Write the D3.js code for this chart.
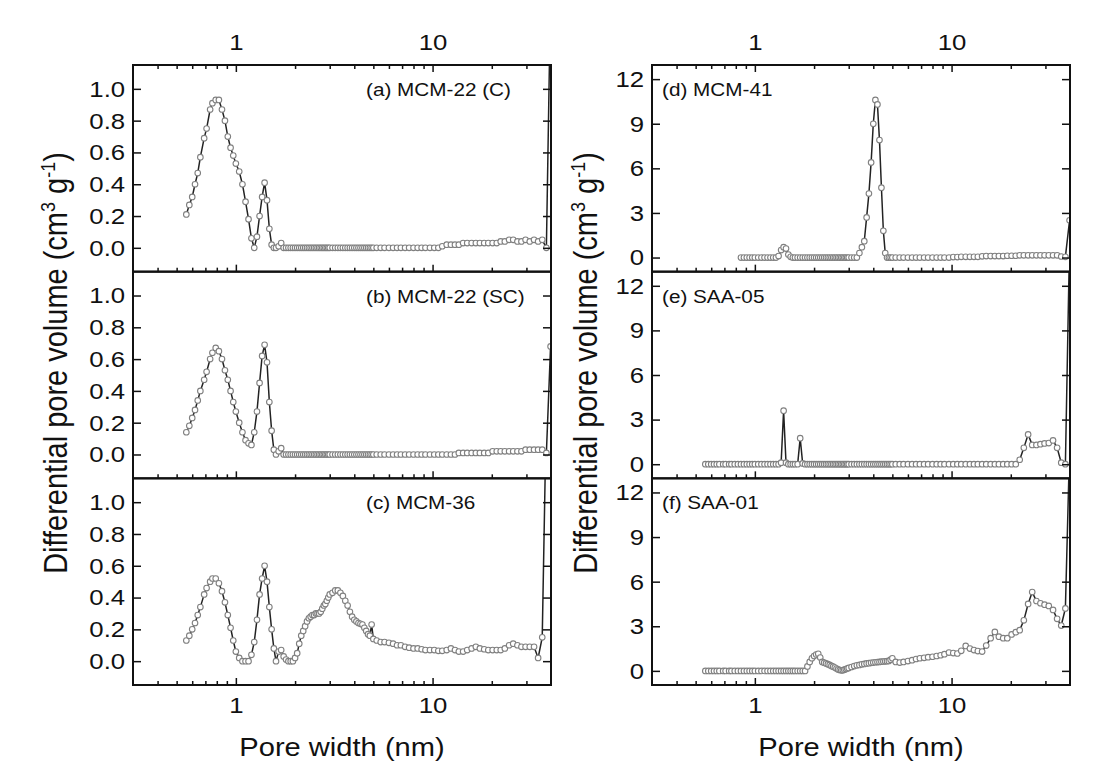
<!DOCTYPE html>
<meta charset="utf-8"/>
<head>
<style>
  body { margin:0; background:#fff; }
  text { font-family: "Liberation Sans", Arial, sans-serif; fill:#111; }
</style>
<script src="https://d3js.org/d3.v7.min.js" charset="utf-8"></script>
</head>
<body>
<script>

// pore widths (nm) shared by all six curves
var poreWidth = [
  0.56,0.58,0.60,0.62,0.64,0.66,0.69,0.71,0.74,0.76,0.79,0.82,0.85,0.88,0.91,0.94,0.97,1.00,
  1.04,1.08,1.12,1.16,1.20,1.24,1.28,1.32,1.36,1.40,1.44,1.48,1.52,1.56,1.60,1.65,1.70,1.75,
  1.80,1.85,1.90,1.95,2.00,2.05,2.10,2.15,2.20,2.25,2.30,2.35,2.40,2.45,2.50,2.55,2.60,2.65,2.70,2.75,2.80,2.85,2.90,2.95,3.00,
  3.1,3.2,3.3,3.4,3.5,3.6,3.7,3.8,3.9,4.0,4.1,4.2,4.3,4.4,4.5,4.6,4.7,4.8,4.9,5.0,
  5.2,5.45,5.7,6.0,6.3,6.6,6.9,7.25,7.6,8.0,
  8.4,8.8,9.2,9.7,10.2,10.7,11.2,11.8,12.4,13,
  13.6,14.3,15,15.8,16.6,17.4,18.3,19.2,20.2,21.2,
  22.2,23.3,24.5,25.7,27,28.3,29.7,31.2,32.8,34.4,
  36.1,37.9,39.8
];

// differential pore volume, cm3 g-1 (null = no point)
var mcm22C = [
  0.21,0.27,0.32,0.40,0.47,0.57,0.69,0.75,0.87,0.91,0.93,0.93,0.87,0.80,0.70,0.63,0.58,0.53,
  0.48,0.40,0.29,0.18,0.06,0.00,0.07,0.20,0.32,0.41,0.30,0.12,0.02,0.00,0.00,0.01,0.03,0.00,
  0,0,0,0,0,0,0,0,0,0,0,0,0,0,0,0,0,0,0,0,0,0,0,0,0,
  0,0,0,0,0,0,0,0,0,0,0,0,0,0,0,0,0,0,0,0,
  0,0,0,0,0,0,0,0,0,0,
  0,0,0,0,0,0,0.01,0.02,0.02,0.02,
  0.02,0.03,0.03,0.03,0.03,0.03,0.03,0.03,0.03,0.03,
  0.04,0.04,0.05,0.05,0.04,0.04,0.05,0.04,0.05,0.04,
  0.05,0.00,1.6
];
var mcm22SC = [
  0.14,0.18,0.23,0.28,0.34,0.40,0.47,0.52,0.60,0.64,0.67,0.65,0.60,0.53,0.47,0.40,0.33,0.27,
  0.20,0.14,0.09,0.07,0.06,0.14,0.27,0.45,0.62,0.69,0.58,0.33,0.15,0.03,0.00,0.02,0.04,0.00,
  0,0,0,0,0,0,0,0,0,0,0,0,0,0,0,0,0,0,0,0,0,0,0,0,0,
  0,0,0,0,0,0,0,0,0,0,0,0,0,0,0,0,0,0,0,0,
  0,0,0,0,0,0,0,0,0,0,
  0,0,0,0,0,0,0,0,0,0,
  0.01,0.01,0.01,0.01,0.01,0.01,0.01,0.01,0.02,0.02,
  0.02,0.02,0.02,0.02,0.02,0.02,0.03,0.03,0.03,0.03,
  0.03,0.01,0.68
];
var mcm36 = [
  0.13,0.16,0.20,0.24,0.29,0.34,0.42,0.46,0.50,0.52,0.52,0.49,0.44,0.37,0.29,0.21,0.13,0.06,
  0.02,0.00,0.00,0.00,0.04,0.12,0.26,0.42,0.52,0.60,0.50,0.34,0.20,0.08,0.00,0.06,0.07,0.03,
  0.01,0,0,0,0.02,0.05,0.11,0.16,0.19,0.22,0.25,0.27,0.28,0.29,0.29,0.30,0.30,0.30,0.31,0.33,0.35,0.36,0.38,0.40,0.42,
  0.43,0.445,0.445,0.43,0.41,0.38,0.35,0.31,0.28,0.26,0.25,0.24,0.235,0.23,0.21,0.19,0.17,0.16,0.23,0.14,
  0.13,0.12,0.12,0.115,0.11,0.10,0.10,0.09,0.085,0.08,
  0.08,0.075,0.07,0.07,0.07,0.065,0.065,0.07,0.08,0.07,
  0.06,0.06,0.07,0.08,0.09,0.08,0.075,0.07,0.07,0.07,
  0.07,0.08,0.10,0.11,0.10,0.09,0.09,0.09,0.09,0.02,
  0.15,1.6,1.6
];
var mcm41 = [
  null,null,null,null,null,null,null,null,null,null,null,null,0,0,0,0,0,0,
  0,0,0,0,0,0,0,0.1,0.5,0.7,0.6,0.2,0.05,0,0,0,0,0,
  0,0,0,0,0,0,0,0,0,0,0,0,0,0,0,0,0,0,0,0,0,0,0,0,0,
  0,0,0,0.3,0.7,1.1,2.7,4.3,6.4,9.0,10.6,10.3,7.9,4.7,1.8,0.3,0,0,0,0,
  0,0,0,0,0,0,0,0,0,0,
  0,0,0,0,0.03,0.03,0.05,0.05,0.05,0.05,
  0.05,0.08,0.1,0.1,0.1,0.1,0.1,0.12,0.12,0.12,
  0.15,0.15,0.15,0.15,0.15,0.15,0.15,0.15,0.15,0.15,
  0.07,0.05,2.5
];
var saa05 = [
  0,0,0,0,0,0,0,0,0,0,0,0,0,0,0,0,0,0,
  0,0,0,0,0,0,0,0,0.1,3.6,0.1,0,0,0,0,0,1.75,0.05,
  0,0,0,0,0,0,0,0,0,0,0,0,0,0,0,0,0,0,0,0,0,0,0,0,0,
  0,0,0,0,0,0,0,0,0,0,0,0,0,0,0,0,0,0,0,0,
  0,0,0,0,0,0,0,0,0,0,
  0,0,0,0,0,0,0,0,0,0,
  0,0,0,0,0,0,0,0,0,0,
  0.3,1.1,2.0,1.3,1.3,1.35,1.4,1.42,1.6,1.1,
  0.1,0,15
];
var saa01 = [
  0,0,0,0,0,0,0,0,0,0,0,0,0,0,0,0,0,0,
  0,0,0,0,0,0,0,0,0,0,0,0,0,0,0,0,0,0,
  0,0.3,0.6,0.85,1.0,1.1,1.15,0.9,0.6,0.55,0.5,0.45,0.4,0.33,0.28,0.22,0.16,0.1,0.06,0.04,0.04,0.08,0.12,0.16,0.2,
  0.26,0.32,0.37,0.4,0.44,0.47,0.5,0.52,0.54,0.56,0.58,0.59,0.6,0.62,0.63,0.64,0.65,0.67,0.75,0.85,
  0.6,0.56,0.6,0.66,0.72,0.8,0.85,0.88,0.92,0.95,
  1.0,1.05,1.12,1.23,1.2,1.17,1.35,1.68,1.5,1.4,
  1.33,1.3,1.7,2.2,2.62,2.3,2.2,2.2,2.45,2.6,
  2.74,3.4,4.5,5.3,4.7,4.55,4.45,4.37,4.1,3.5,
  3.05,4.2,15
];

var panelLabels = ["(a) MCM-22 (C)", "(b) MCM-22 (SC)", "(c) MCM-36", "(d) MCM-41", "(e) SAA-05", "(f) SAA-01"];
var panelSeries = [mcm22C, mcm22SC, mcm36, mcm41, saa05, saa01];
var xMajor = [1, 10];
var xMinor = [0.4,0.5,0.6,0.7,0.8,0.9,2,3,4,5,6,7,8,9,20,30];
var yTicksLeft = [0, 0.2, 0.4, 0.6, 0.8, 1.0];
var yTicksRight = [0, 3, 6, 9, 12];

var width = 1102, height = 778;
var plotTop = 65, plotBottom = 685, panelH = (plotBottom - plotTop) / 3;
var sx = 1.12; // source figure is slightly stretched horizontally

var cols = [
  {x0:133, x1:551, domain:[-0.15, 1.15], ticks:yTicksLeft, fmt:d3.format(".1f"), titleX:67},
  {x0:652, x1:1070, domain:[-0.95, 12.95], ticks:yTicksRight, fmt:d3.format("d"), titleX:597}
];

var svg = d3.select("body").append("svg")
  .attr("width", width)
  .attr("height", height);

svg.append("rect").attr("width", width).attr("height", height).attr("fill", "#fff");

panelSeries.forEach(function(series, i){
  var c = cols[Math.floor(i / 3)], row = i % 3;
  var y0 = plotTop + row * panelH, y1 = y0 + panelH;

  var x = d3.scaleLog().domain([0.3, 40]).range([c.x0, c.x1]);
  var y = d3.scaleLinear().domain(c.domain).range([y1, y0]);

  var g = svg.append("g");

  var clipId = "clip" + i;
  g.append("clipPath").attr("id", clipId)
    .append("rect").attr("x", c.x0).attr("y", y0).attr("width", c.x1 - c.x0).attr("height", panelH);

  var pts = poreWidth.map(function(w, k){ return {w:w, v:series[k]}; })
    .filter(function(d){ return d.v != null; });

  var plot = g.append("g").attr("clip-path", "url(#" + clipId + ")");

  plot.append("path")
    .datum(pts)
    .attr("fill", "none")
    .attr("stroke", "#222")
    .attr("stroke-width", 1.5)
    .attr("d", d3.line().x(function(d){ return x(d.w); }).y(function(d){ return y(d.v); }));

  plot.selectAll("circle")
    .data(pts)
    .enter().append("circle")
    .attr("cx", function(d){ return x(d.w); })
    .attr("cy", function(d){ return y(d.v); })
    .attr("r", 2.8)
    .attr("fill", "#fff")
    .attr("stroke", "#808080")
    .attr("stroke-width", 1.1);

  // bottom axis: major + minor ticks pointing in
  var showBottom = row == 2;
  g.append("g").attr("transform", "translate(0," + y1 + ")")
    .call(d3.axisBottom(x).tickValues(xMajor).tickSize(-7).tickPadding(12)
      .tickFormat(showBottom ? d3.format("d") : ""));
  g.append("g").attr("transform", "translate(0," + y1 + ")")
    .call(d3.axisBottom(x).tickValues(xMinor).tickSize(-4).tickFormat(""));

  if (row == 0) {
    g.append("g").attr("transform", "translate(0," + y0 + ")")
      .call(d3.axisTop(x).tickValues(xMajor).tickSize(-7).tickPadding(15).tickFormat(d3.format("d")));
    g.append("g").attr("transform", "translate(0," + y0 + ")")
      .call(d3.axisTop(x).tickValues(xMinor).tickSize(-4).tickFormat(""));
  }

  g.append("g").attr("transform", "translate(" + c.x0 + ",0)")
    .call(d3.axisLeft(y).tickValues(c.ticks).tickSize(-8).tickPadding(7).tickFormat(c.fmt));
  g.append("g").attr("transform", "translate(" + c.x1 + ",0)")
    .call(d3.axisRight(y).tickValues(c.ticks).tickSize(-8).tickFormat(""));

  g.selectAll(".domain").remove();
  g.selectAll(".tick line").attr("stroke", "#111").attr("stroke-width", 1.5);
  g.selectAll(".tick text")
    .style("font-family", '"Liberation Sans", Arial, sans-serif')
    .style("font-size", "23px")
    .attr("fill", "#111")
    .attr("transform", "scale(" + sx + ",1)");

  // frame
  g.append("rect")
    .attr("x", c.x0).attr("y", y0)
    .attr("width", c.x1 - c.x0).attr("height", panelH)
    .attr("fill", "none").attr("stroke", "#111").attr("stroke-width", 2);

  // panel label
  g.append("text")
    .attr("transform", "translate(" + (c.x0 + (i < 3 ? 233 : 10)) + "," + (y0 + 31) + ") scale(" + sx + ",1)")
    .style("font-size", "18.5px")
    .text(panelLabels[i]);
});

cols.forEach(function(c){
  svg.append("text")
    .attr("transform", "translate(" + ((c.x0 + c.x1) / 2) + ",756) scale(" + sx + ",1)")
    .attr("text-anchor", "middle")
    .style("font-size", "26px")
    .text("Pore width (nm)");

  var t = svg.append("text")
    .attr("transform", "translate(" + c.titleX + ",363) scale(" + sx + ",1) rotate(-90)")
    .attr("text-anchor", "middle")
    .style("font-size", "29px");
  t.append("tspan").text("Differential pore volume (cm");
  t.append("tspan").attr("dy", -11).style("font-size", "18px").text("3");
  t.append("tspan").attr("dy", 11).text(" g");
  t.append("tspan").attr("dy", -11).style("font-size", "18px").text("-1");
  t.append("tspan").attr("dy", 11).text(")");
});

</script>
</body>
</html>
